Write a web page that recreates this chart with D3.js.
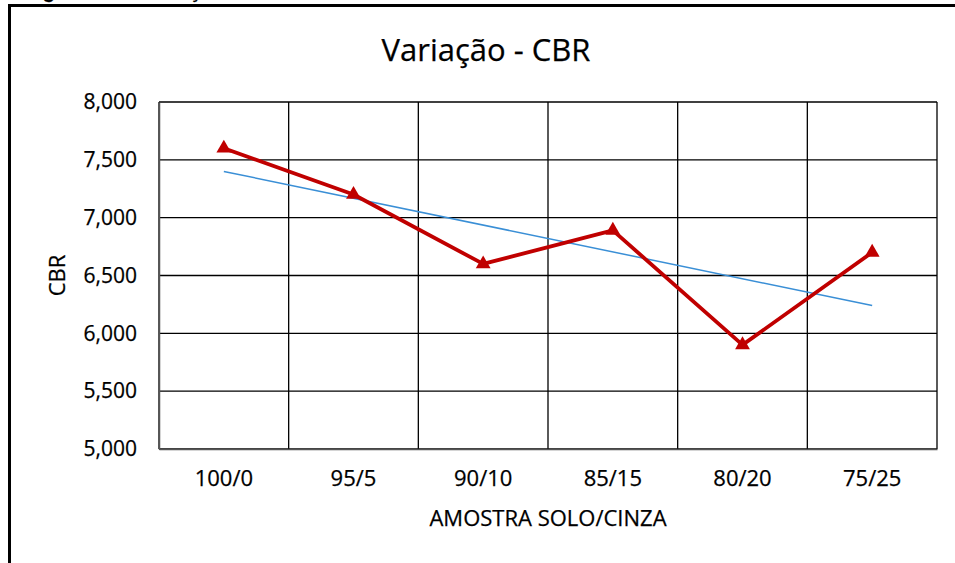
<!DOCTYPE html>
<html>
<head>
<meta charset="utf-8">
<title>Variação - CBR</title>
<style>
body { margin: 0; background: #fff; }
svg { display: block; }
text { font-family: "Open Sans", sans-serif; fill: #000; stroke: #000; stroke-width: 0.25px; }
.grid line { stroke: #000; stroke-width: 1.3px; }
.frame { stroke: #000; stroke-width: 3px; fill: none; }
</style>
<script src="https://cdn.jsdelivr.net/npm/d3@7"></script>
</head>
<body>
<svg width="955" height="563"></svg>
<script>
// values
var amostras = ["100/0", "95/5", "90/10", "85/15", "80/20", "75/25"];
var cbr = [7600, 7200, 6600, 6890, 5900, 6700];
var tendencia = [7400, 6240]; // trend line, first and last category
var yTicks = [5000, 5500, 6000, 6500, 7000, 7500, 8000];

var svg = d3.select("svg"),
    margin = {top: 102, right: 18, bottom: 114, left: 159},
    width = +svg.attr("width") - margin.left - margin.right,
    height = +svg.attr("height") - margin.top - margin.bottom;

// page frame and clipped caption from the document
svg.append("text")
    .attr("x", 25).attr("y", -2)
    .style("font-family", "Liberation Sans, sans-serif")
    .style("font-weight", "bold").style("font-size", "20px")
    .text("Figura 4.7 – Variação do CBR");
svg.append("path").attr("class", "frame")
    .attr("d", "M9.5,563 V5.5 H955");

var g = svg.append("g").attr("transform", "translate(" + margin.left + "," + margin.top + ")");

var x = d3.scaleBand().domain(amostras).range([0, width]).padding(0),
    y = d3.scaleLinear().domain([5000, 8000]).range([height, 0]);

// gridlines
var grid = g.append("g").attr("class", "grid");
grid.selectAll(".h").data(yTicks).enter().append("line")
    .attr("x1", 0).attr("x2", width)
    .attr("y1", function(d) { return y(d); }).attr("y2", function(d) { return y(d); });
grid.selectAll(".v").data(d3.range(amostras.length + 1)).enter().append("line")
    .attr("x1", function(i) { return i * x.bandwidth(); })
    .attr("x2", function(i) { return i * x.bandwidth(); })
    .attr("y1", 0).attr("y2", height);

// axes
g.append("g")
    .call(d3.axisLeft(y).tickValues(yTicks).tickFormat(d3.format(",")).tickSize(0).tickPadding(22))
    .call(function(a) { a.select(".domain").attr("stroke", "#555").attr("stroke-width", 1.5); })
    .selectAll("text").style("font-size", "21px").attr("fill", "#000");

g.append("g")
    .attr("transform", "translate(0," + height + ")")
    .call(d3.axisBottom(x).tickSize(0).tickPadding(21))
    .call(function(a) { a.select(".domain").attr("stroke", "#555").attr("stroke-width", 1.5); })
    .selectAll("text").style("font-size", "22px").attr("fill", "#000");

// titles
svg.append("text")
    .attr("x", 486).attr("y", 61)
    .attr("text-anchor", "middle").style("font-size", "31px")
    .text("Variação - CBR");
svg.append("text")
    .attr("x", 548).attr("y", 526)
    .attr("text-anchor", "middle").style("font-size", "22px")
    .text("AMOSTRA SOLO/CINZA");
svg.append("text")
    .attr("transform", "translate(65," + (margin.top + height / 2) + ") rotate(-90)")
    .attr("text-anchor", "middle").style("font-size", "22px")
    .text("CBR");

// trend line
var cx = function(i) { return x(amostras[i]) + x.bandwidth() / 2; };
g.append("line")
    .attr("x1", cx(0)).attr("y1", y(tendencia[0]))
    .attr("x2", cx(amostras.length - 1)).attr("y2", y(tendencia[1]))
    .attr("stroke", "#3a8fd6").attr("stroke-width", 1.5);

// data series
var line = d3.line()
    .x(function(d, i) { return cx(i); })
    .y(function(d) { return y(d); });

g.append("path")
    .datum(cbr)
    .attr("fill", "none")
    .attr("stroke", "#c00000")
    .attr("stroke-width", 3.8)
    .attr("stroke-linejoin", "round")
    .attr("d", line);

g.selectAll(".marker").data(cbr).enter().append("path")
    .attr("class", "marker")
    .attr("fill", "#c00000")
    .attr("transform", function(d, i) { return "translate(" + cx(i) + "," + y(d) + ")"; })
    .attr("d", d3.symbol().type(d3.symbolTriangle).size(95));
</script>
</body>
</html>
